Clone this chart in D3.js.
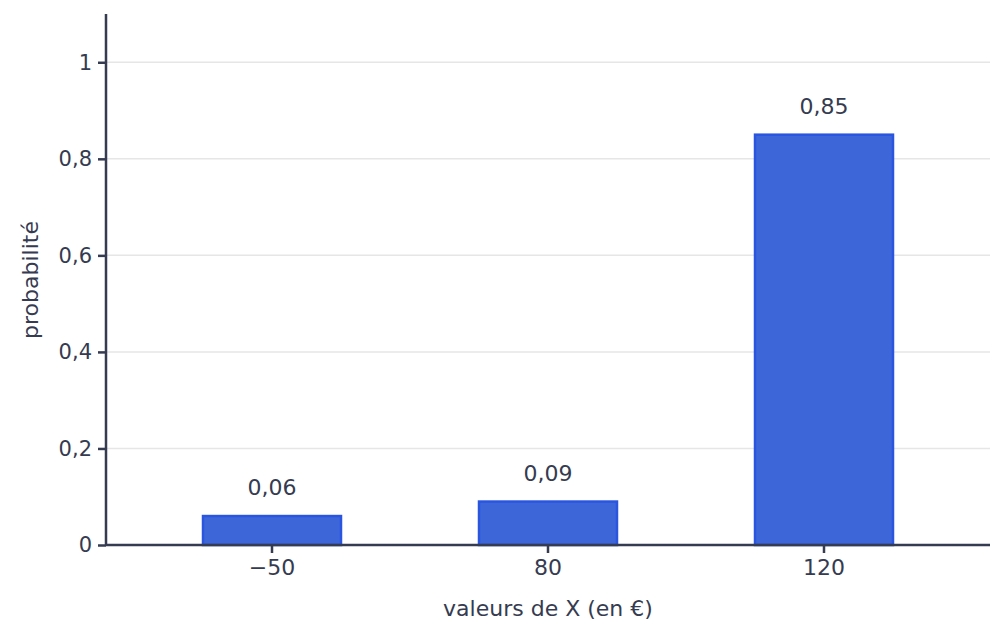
<!DOCTYPE html>
<html><head><meta charset="utf-8">
<script src="https://cdn.jsdelivr.net/npm/d3@7"></script>
<style>body{margin:0;background:#fff}text{font-family:"DejaVu Sans",sans-serif;fill:#353b50}</style>
</head><body>
<svg id="c" width="1004" height="638"></svg>
<script>
// data
const categories = ["\u221250", "80", "120"];
const probs = [0.06, 0.09, 0.85];
const yTicks = [0, 0.2, 0.4, 0.6, 0.8, 1];

const svg = d3.select("#c");
const ink = "#353b50";
const fmt = v => v === 0 ? "0" : d3.format(".2~f")(v).replace(".", ",");

const x = d3.scaleBand().domain(categories).range([134, 962]).paddingInner(0.5).paddingOuter(0.25);
const y = d3.scaleLinear().domain([0, 1.1]).range([545, 14]);

// grid
svg.append("g").selectAll("line").data(yTicks.slice(1)).join("line")
  .attr("x1", 106).attr("x2", 990).attr("y1", d => y(d)).attr("y2", d => y(d))
  .attr("stroke", "#e6e6e6").attr("stroke-width", 1.5);

// bars
svg.append("g").selectAll("rect").data(probs).join("rect")
  .attr("x", (d, i) => x(categories[i])).attr("width", x.bandwidth())
  .attr("y", d => y(d)).attr("height", d => y(0) - y(d))
  .attr("fill", "#3d67d9").attr("stroke", "#2a55e0").attr("stroke-width", 2.5);

svg.append("g").selectAll("text").data(probs).join("text")
  .attr("x", (d, i) => x(categories[i]) + x.bandwidth() / 2).attr("y", d => y(d) - 21)
  .attr("text-anchor", "middle").attr("font-size", 22).text(d => fmt(d));

// axes
const ya = svg.append("g").attr("transform", "translate(106,0)")
  .call(d3.axisLeft(y).tickValues(yTicks).tickFormat(fmt).tickSize(8).tickPadding(6));
const xa = svg.append("g").attr("transform", "translate(0,545)")
  .call(d3.axisBottom(x).tickSize(8).tickPadding(6));
[ya, xa].forEach(a => {
  a.selectAll("path,line").attr("stroke", ink).attr("stroke-width", 2.5);
  a.selectAll("text").attr("font-size", 21).attr("fill", ink).style("font-family", "DejaVu Sans");
});
xa.select(".domain").attr("d", "M106,0H990");
ya.select(".domain").attr("d", "M0,14V545");
xa.selectAll("text").attr("font-size", 22);

svg.append("text").attr("x", 548).attr("y", 616).attr("text-anchor", "middle")
  .attr("font-size", 22).text("valeurs de X (en \u20ac)");
svg.append("text").attr("transform", "translate(38,280) rotate(-90)").attr("text-anchor", "middle")
  .attr("font-size", 22).text("probabilité");
</script>
</body></html>
